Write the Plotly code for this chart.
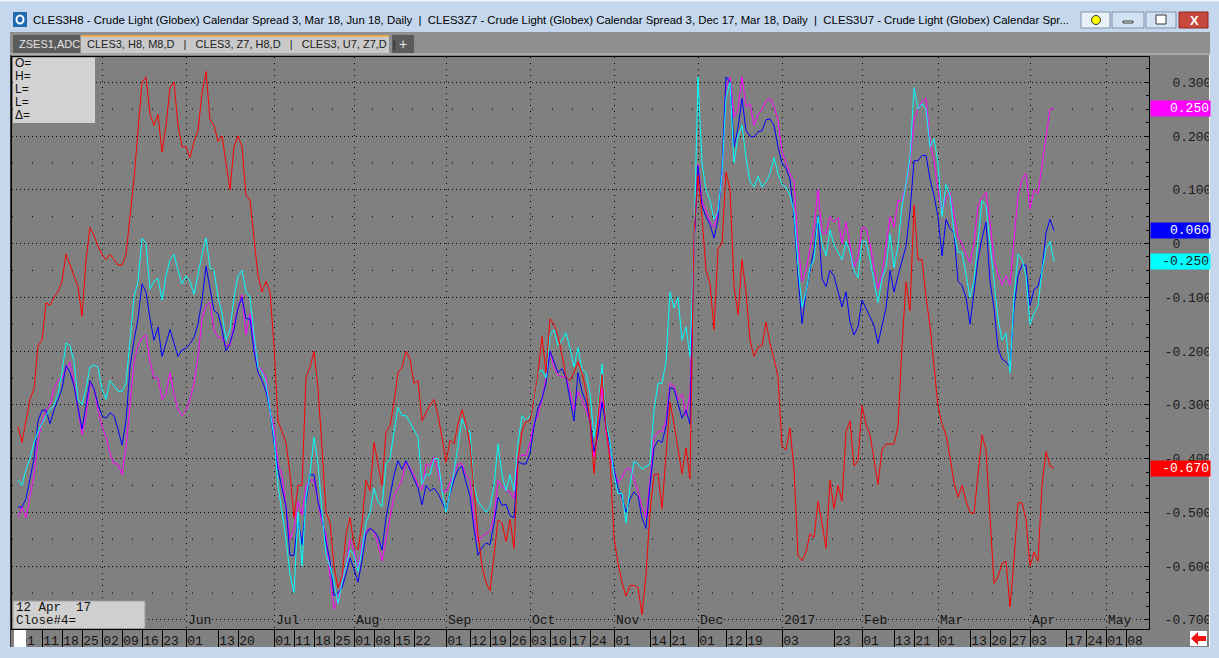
import plotly.graph_objects as go
import pandas as pd

# trading calendar, day 0 = 1 Jun 2016, series start on day -42 (1 Apr 2016)
holidays = ["2016-05-30", "2016-07-04", "2016-09-05", "2016-11-24", "2016-12-26",
            "2017-01-02", "2017-01-16", "2017-02-20", "2017-04-14"]
cal = pd.bdate_range("2016-03-01", "2017-06-30", freq="C", holidays=holidays)
day0 = cal.get_loc(pd.Timestamp("2016-06-01"))
first_day = -42

# CLES3, H8, M8 (red)
red = [
    -0.34, -0.37, -0.33, -0.29, -0.27, -0.19, -0.18, -0.11, -0.115, -0.10,
    -0.09, -0.07, -0.02, -0.04, -0.06, -0.08, -0.135, -0.03, 0.03, 0.015,
    -0.005, -0.02, -0.03, -0.02, -0.03, -0.04, -0.04, -0.02, 0.05, 0.12,
    0.21, 0.30, 0.31, 0.24, 0.22, 0.24, 0.17, 0.22, 0.29, 0.30,
    0.22, 0.18, 0.18, 0.16, 0.19, 0.21, 0.28, 0.32, 0.23, 0.22,
    0.19, 0.20, 0.15, 0.10, 0.18, 0.20, 0.18, 0.09, 0.08, 0.01,
    -0.06, -0.09, -0.07, -0.09, -0.19, -0.33, -0.35, -0.37, -0.43, -0.51,
    -0.45, -0.45, -0.25, -0.23, -0.20, -0.27, -0.38, -0.50, -0.52, -0.60,
    -0.64, -0.62, -0.54, -0.51, -0.56, -0.57, -0.52, -0.44, -0.46, -0.37,
    -0.41, -0.45, -0.35, -0.34,
    -0.295, -0.24, -0.23, -0.20, -0.215, -0.26, -0.255, -0.33, -0.315, -0.30,
    -0.29, -0.32, -0.36, -0.407, -0.366, -0.373, -0.336, -0.309, -0.336, -0.373,
    -0.46, -0.54, -0.60, -0.63, -0.646, -0.58, -0.514, -0.52, -0.554, -0.513,
    -0.567, -0.40, -0.35, -0.33, -0.33, -0.29, -0.24, -0.173, -0.24, -0.14,
    -0.15, -0.173, -0.207, -0.248, -0.255, -0.24, -0.22, -0.24, -0.275, -0.33,
    -0.428, -0.32, -0.244, -0.34, -0.404, -0.547, -0.595, -0.63, -0.656, -0.636,
    -0.636, -0.64, -0.69, -0.615, -0.50, -0.43, -0.428, -0.493, -0.40, -0.295,
    -0.336, -0.38, -0.428, -0.38, -0.438, 0.02, 0.127, 0.05, -0.05, -0.074,
    -0.16, -0.01, 0.0, 0.133, 0.10, -0.08, -0.132, -0.03, -0.09, -0.18,
    -0.21, -0.193, -0.19,
    -0.146, -0.186, -0.214, -0.248, -0.377, -0.384, -0.343, -0.42, -0.58, -0.59,
    -0.574, -0.54, -0.547, -0.48, -0.52, -0.567, -0.44, -0.493, -0.45, -0.479,
    -0.35, -0.33, -0.414, -0.404, -0.302, -0.336, -0.356, -0.404, -0.448, -0.384,
    -0.373, -0.373, -0.373, -0.34, -0.19, -0.071, -0.125, 0.072, -0.03, -0.03,
    -0.10, -0.153, -0.234, -0.302, -0.336, -0.356, -0.397, -0.445, -0.472, -0.45,
    -0.479, -0.50, -0.503, -0.431, -0.356, -0.384, -0.50, -0.632, -0.62, -0.595,
    -0.591, -0.676, -0.588, -0.482, -0.482, -0.513, -0.60, -0.574, -0.591, -0.45,
    -0.387, -0.414, -0.418,
]

# CLES3, Z7, H8 (blue)
blue = [
    -0.49, -0.49, -0.475, -0.44, -0.40, -0.33, -0.31, -0.31, -0.335, -0.31,
    -0.29, -0.27, -0.227, -0.24, -0.265, -0.305, -0.345, -0.30, -0.255, -0.27,
    -0.30, -0.32, -0.325, -0.315, -0.32, -0.345, -0.375, -0.33, -0.23, -0.18,
    -0.14, -0.075, -0.09, -0.14, -0.18, -0.155, -0.21, -0.185, -0.16, -0.185,
    -0.21, -0.198, -0.195, -0.186, -0.175, -0.15, -0.105, -0.042, -0.085, -0.125,
    -0.13, -0.16, -0.20, -0.185, -0.16, -0.12, -0.10, -0.14, -0.14, -0.20,
    -0.24, -0.255, -0.275, -0.31, -0.37, -0.42, -0.455, -0.49, -0.58, -0.58,
    -0.51, -0.56, -0.48, -0.43, -0.43, -0.48, -0.51, -0.555, -0.59, -0.655,
    -0.65, -0.64, -0.615, -0.585, -0.605, -0.63, -0.59, -0.54, -0.53, -0.535,
    -0.545, -0.57, -0.51, -0.47,
    -0.43, -0.404, -0.42, -0.404, -0.42, -0.437, -0.455, -0.486, -0.45, -0.46,
    -0.455, -0.465, -0.48, -0.496, -0.465, -0.44, -0.42, -0.414, -0.444, -0.47,
    -0.53, -0.58, -0.565, -0.557, -0.56, -0.52, -0.472, -0.487, -0.485, -0.506,
    -0.51, -0.405, -0.41, -0.41, -0.39, -0.34, -0.306, -0.288, -0.26, -0.20,
    -0.22, -0.24, -0.233, -0.25, -0.29, -0.33, -0.24, -0.275, -0.295, -0.33,
    -0.387, -0.355, -0.295, -0.34, -0.375, -0.42, -0.455, -0.472, -0.50, -0.475,
    -0.462, -0.47, -0.51, -0.53, -0.45, -0.38, -0.366, -0.37, -0.34, -0.268,
    -0.27, -0.30, -0.325, -0.31, -0.336, 0.0, 0.144, 0.07, 0.05, 0.035,
    0.01, 0.045, 0.14, 0.31, 0.30, 0.18, 0.215, 0.27, 0.21, 0.20,
    0.198, 0.208, 0.21,
    0.23, 0.232, 0.22, 0.18, 0.15, 0.14, 0.12, 0.05, -0.06, -0.149,
    -0.09, -0.05, -0.01, 0.052, -0.065, -0.08, -0.05, -0.06, -0.09, -0.118,
    -0.09, -0.146, -0.17, -0.155, -0.105, -0.12, -0.135, -0.152, -0.186, -0.15,
    -0.12, -0.05, -0.09, -0.06, -0.03, -0.005, 0.06, 0.154, 0.154, 0.164,
    0.164, 0.12, 0.09, 0.05, -0.023, 0.045, 0.028, 0.02, -0.07, -0.078,
    -0.10, -0.15, -0.09, -0.03, 0.01, 0.04, -0.07, -0.12, -0.195, -0.215,
    -0.22, -0.23, -0.12, -0.06, -0.04, -0.04, -0.115, -0.085, -0.08, -0.05,
    0.02, 0.045, 0.024,
]

# CLES3, U7, Z7 (cyan)
cyan = [
    -0.44, -0.45, -0.42, -0.40, -0.37, -0.35, -0.335, -0.32, -0.31, -0.30,
    -0.28, -0.24, -0.185, -0.19, -0.22, -0.29, -0.30, -0.27, -0.23, -0.226,
    -0.23, -0.27, -0.29, -0.255, -0.265, -0.275, -0.275, -0.26, -0.18, -0.10,
    -0.07, 0.01, 0.00, -0.085, -0.07, -0.065, -0.105, -0.06, -0.03, -0.02,
    -0.05, -0.075, -0.06, -0.07, -0.095, -0.055, -0.02, 0.01, -0.045, -0.05,
    -0.10, -0.13, -0.18, -0.16, -0.10, -0.06, -0.05, -0.09, -0.10, -0.17,
    -0.23, -0.24, -0.26, -0.31, -0.36, -0.45, -0.50, -0.55, -0.615, -0.65,
    -0.50, -0.60, -0.47, -0.43, -0.36, -0.41, -0.50, -0.58, -0.60, -0.63,
    -0.67, -0.63, -0.60, -0.57, -0.58, -0.61, -0.57, -0.52, -0.50, -0.455,
    -0.48, -0.49, -0.41, -0.40,
    -0.35, -0.305, -0.32, -0.32, -0.333, -0.346, -0.36, -0.448, -0.43, -0.43,
    -0.40, -0.40, -0.46, -0.50, -0.46, -0.425, -0.377, -0.326, -0.346, -0.35,
    -0.45, -0.48, -0.49, -0.50, -0.49, -0.45, -0.373, -0.43, -0.46, -0.43,
    -0.46, -0.37, -0.32, -0.33, -0.32, -0.295, -0.24, -0.235, -0.25, -0.17,
    -0.16, -0.19, -0.18, -0.166, -0.195, -0.23, -0.193, -0.235, -0.24, -0.28,
    -0.36, -0.31, -0.224, -0.33, -0.37, -0.43, -0.465, -0.465, -0.52, -0.45,
    -0.405, -0.41, -0.42, -0.415, -0.41, -0.31, -0.26, -0.26, -0.22, -0.09,
    -0.12, -0.10, -0.18, -0.155, -0.21, 0.00, 0.31, 0.15, 0.10, 0.08,
    0.045, 0.06, 0.13, 0.27, 0.30, 0.15, 0.20, 0.22, 0.16, 0.115,
    0.105, 0.125, 0.105,
    0.115, 0.13, 0.16, 0.13, 0.11, 0.105, 0.09, 0.06, -0.04, -0.118,
    -0.09, -0.045, -0.03, 0.05, 0.0, -0.023, 0.025, -0.003, -0.016, -0.03,
    0.004, -0.016, -0.05, -0.064, 0.004, 0.004, -0.03, -0.07, -0.11, -0.065,
    -0.045, 0.018, -0.045, -0.003, 0.07, 0.11, 0.16, 0.29, 0.25, 0.26,
    0.25, 0.18, 0.195, 0.15, 0.05, 0.11, 0.09, 0.02, -0.016, -0.016,
    -0.06, -0.10, -0.07, 0.0, 0.08, 0.07, 0.004, -0.065, -0.14, -0.18,
    -0.166, -0.24, -0.10, -0.02, -0.03, -0.06, -0.15, -0.13, -0.115, -0.05,
    -0.01, 0.004, -0.033,
]

# 4th study (magenta)
magenta = [
    -0.51, -0.49, -0.51, -0.47, -0.43, -0.37, -0.33, -0.31, -0.30, -0.27,
    -0.255, -0.25, -0.235, -0.22, -0.26, -0.31, -0.355, -0.32, -0.26, -0.27,
    -0.31, -0.34, -0.36, -0.39, -0.41, -0.41, -0.43, -0.38, -0.30, -0.22,
    -0.19, -0.175, -0.17, -0.22, -0.25, -0.25, -0.29, -0.28, -0.24, -0.28,
    -0.31, -0.32, -0.31, -0.29, -0.26, -0.21, -0.14, -0.115, -0.11, -0.16,
    -0.175, -0.175, -0.19, -0.19, -0.15, -0.12, -0.095, -0.17, -0.13, -0.18,
    -0.23, -0.235, -0.25, -0.31, -0.34, -0.41, -0.43, -0.49, -0.55, -0.53,
    -0.48, -0.505, -0.45, -0.44, -0.44, -0.48, -0.52, -0.54, -0.62, -0.68,
    -0.66, -0.63, -0.60, -0.55, -0.57, -0.605, -0.56, -0.535, -0.53, -0.535,
    -0.56, -0.59, -0.55, -0.51,
    -0.47, -0.455, -0.44, -0.405, -0.418, -0.43, -0.45, -0.458, -0.41, -0.414,
    -0.397, -0.423, -0.458, -0.462, -0.445, -0.428, -0.41, -0.41, -0.431, -0.44,
    -0.51, -0.555, -0.545, -0.54, -0.534, -0.51, -0.441, -0.45, -0.46, -0.462,
    -0.475, -0.397, -0.394, -0.395, -0.37, -0.335, -0.32, -0.29, -0.25, -0.20,
    -0.23, -0.245, -0.248, -0.248, -0.275, -0.31, -0.275, -0.29, -0.31, -0.33,
    -0.397, -0.355, -0.268, -0.35, -0.397, -0.42, -0.445, -0.435, -0.42, -0.418,
    -0.44, -0.46, -0.49, -0.51, -0.44, -0.36, -0.35, -0.35, -0.33, -0.26,
    -0.265, -0.29, -0.28, -0.32, -0.28, 0.0, 0.147, 0.08, 0.06, 0.04,
    0.03, 0.06, 0.12, 0.29, 0.31, 0.235, 0.25, 0.31, 0.255, 0.26,
    0.22, 0.24, 0.25,
    0.265, 0.27, 0.255, 0.23, 0.17, 0.15, 0.13, 0.115, 0.0, -0.07,
    -0.05, -0.01, 0.03, 0.10, 0.02, 0.018, 0.05, 0.04, 0.048, 0.0,
    0.04, -0.003, -0.045, -0.025, 0.03, 0.028, 0.0, -0.045, -0.084, -0.057,
    0.0, 0.05, 0.03, 0.08, 0.08, 0.11, 0.15, 0.23, 0.25, 0.265,
    0.27, 0.19, 0.155, 0.10, 0.06, 0.085, 0.095, 0.05, 0.012, 0.0,
    -0.02, -0.035, 0.0, 0.07, 0.085, 0.095, 0.04, -0.03, -0.057, -0.077,
    -0.06, -0.077, 0.0, 0.09, 0.12, 0.13, 0.065, 0.10, 0.093, 0.145,
    0.2, 0.25, 0.252,
]

# price flags on the right axis (text as shown)
flag_text = {"magenta": "0.250", "blue": "0.060", "cyan": "-0.250", "red": "-0.670"}

week_ticks = ["2016-04-01", "2016-04-11", "2016-04-18", "2016-04-25", "2016-05-02",
              "2016-05-09", "2016-05-16", "2016-05-23", "2016-06-01", "2016-06-13",
              "2016-06-20", "2016-07-01", "2016-07-11", "2016-07-18", "2016-07-25",
              "2016-08-01", "2016-08-08", "2016-08-15", "2016-08-22", "2016-09-01",
              "2016-09-12", "2016-09-19", "2016-09-26", "2016-10-03", "2016-10-10",
              "2016-10-17", "2016-10-24", "2016-11-01", "2016-11-14", "2016-11-21",
              "2016-12-01", "2016-12-12", "2016-12-19", "2017-01-03", "2017-01-23",
              "2017-02-01", "2017-02-13", "2017-02-21", "2017-03-01", "2017-03-13",
              "2017-03-20", "2017-03-27", "2017-04-03", "2017-04-17", "2017-04-24",
              "2017-05-01", "2017-05-08"]
week_labels = [d[-2:] for d in week_ticks]

month_starts = ["2016-05-02", "2016-06-01", "2016-07-01", "2016-08-01", "2016-09-01",
                "2016-10-03", "2016-11-01", "2016-12-01", "2017-01-03", "2017-02-01",
                "2017-03-01", "2017-04-03", "2017-05-01"]
month_labels = ["", "Jun", "Jul", "Aug", "Sep", "Oct", "Nov", "Dec", "2017",
                "Feb", "Mar", "Apr", "May"]

price_ticks = [-0.7, -0.6, -0.5, -0.4, -0.3, -0.2, -0.1, 0.0, 0.1, 0.2, 0.3]
price_labels = ["-0.700", "-0.600", "-0.500", "-0.400", "-0.300", "-0.200", "-0.100",
                "\u00a00", "\u00a00.100", "\u00a00.200", "\u00a00.300"]

# ---- pixel layout of the window ----
W, H = 1219, 658
L, R, T, B = 12, 1149, 57, 629
FRAME = "#c4d7ed"
GRAY = "#808080"
MONO = "Liberation Mono"
SANS = "Liberation Sans"


def px(x):
    return (x - L) / (R - L)


def py(y):
    return (B - y) / (B - T)


def rect(x0, y0, x1, y1, fill, line=None, layer="below"):
    return dict(type="rect", xref="paper", yref="paper", x0=px(x0), x1=px(x1),
                y0=py(y1), y1=py(y0), fillcolor=fill, layer=layer,
                line=dict(width=1 if line else 0, color=line or fill))


def label(x, y, text, size=12, color="#000000", family=SANS, **kw):
    return dict(xref="paper", yref="paper", x=px(x), y=py(y), text=text,
                showarrow=False, xanchor=kw.pop("xanchor", "left"), yanchor="middle",
                font=dict(family=family, size=size, color=color), **kw)


fig = go.Figure()
series = [("magenta", magenta, "#ff00ff", "white"), ("blue", blue, "#0000ff", "white"),
          ("cyan", cyan, "#00ffff", "#1a1a1a"), ("red", red, "#ff0000", "white")]
for name, vals, color, _ in series:
    x = cal[day0 + first_day: day0 + first_day + len(vals)]
    fig.add_trace(go.Scatter(x=x, y=vals, mode="lines", name=name,
                             line=dict(color=color, width=1), hoverinfo="skip"))

shapes = [
    rect(0, 0, W, 32, FRAME),
    rect(0, 0, W, 1.5, "#eef4fb"),
    rect(0, 32, W, 55, "#8e8e8e"),
    rect(0, 53, W, 55, "#a8a8a8"),
    rect(0, 32, 10, H, FRAME),
    rect(10, 55, 11, 648, "#3a3a3a"),
    rect(1210, 32, W, H, FRAME, layer="above"),
    rect(1209, 55, 1210, 648, "#f4f4f4", layer="above"),
    rect(0, 647, W, H, FRAME),
    # tabs
    rect(13, 35, 80, 53, "#5b5b5b"),
    rect(81, 35, 389, 53, "#c9c9c9"),
    rect(81, 35, 389, 36.5, "#f2a232"),
    rect(392, 35, 414, 53, "#5b5b5b"),
    # window icon and buttons
    rect(13, 12, 27, 27, "#2068b0"),
    dict(type="circle", xref="paper", yref="paper", x0=px(16.5), x1=px(23.5),
         y0=py(23.5), y1=py(15.5), line=dict(color="white", width=2)),
    rect(1081, 12, 1110, 28, "#eaf0f7", "#7f93ad"),
    dict(type="circle", xref="paper", yref="paper", x0=px(1091.5), x1=px(1100.5),
         y0=py(24.5), y1=py(15.5), fillcolor="#ffff00", line=dict(color="#333333", width=1)),
    rect(1112, 12, 1144, 28, "#d3e2f3", "#7f93ad"),
    rect(1123, 21, 1133, 23, "#ffffff", "#333333"),
    rect(1146, 12, 1176, 28, "#d3e2f3", "#7f93ad"),
    rect(1156, 15, 1166, 24, "#ffffff", "#333333"),
    rect(1179, 12, 1208, 28, "#c8493b", "#8a2b22"),
    # data window boxes
    rect(13, 57.5, 95, 123, "#d2d2d2", layer="above"),
    rect(13, 601, 145, 628.5, "#d0d0d0", "#9a9a9a", layer="above"),
    rect(14, 630, 26, 647, "#ffffff", layer="above"),
    rect(1190, 631, 1207, 646, "#ffffff"),
]
arrow = [(1191, 638.5), (1198, 632), (1198, 636), (1206, 636), (1206, 641),
         (1198, 641), (1198, 645)]
shapes.append(dict(type="path", xref="paper", yref="paper", layer="above",
                   path="M " + " L ".join(f"{px(a):.5f},{py(b):.5f}" for a, b in arrow) + " Z",
                   fillcolor="#ee1111", line=dict(width=0)))
# sparse dotted rows between the major price grid lines
for v in [-0.65, -0.55, -0.45, -0.35, -0.25, -0.15, -0.05, 0.05, 0.15, 0.25]:
    shapes.append(dict(type="line", xref="paper", yref="y", x0=0, x1=1, y0=v, y1=v,
                       layer="below", line=dict(color="black", width=1, dash="1px,19px")))

title = ("CLES3H8 - Crude Light (Globex) Calendar Spread 3, Mar 18, Jun 18, Daily"
         "\u00a0\u00a0|\u00a0\u00a0CLES3Z7 - Crude Light (Globex) Calendar Spread 3, Dec 17, "
         "Mar 18, Daily\u00a0\u00a0|\u00a0\u00a0CLES3U7 - Crude Light (Globex) Calendar Spr...")
annotations = [
    label(31, 20, title, size=11.4),
    label(1194, 20, "<b>X</b>", size=13, color="white", xanchor="center"),
    label(17, 44, "ZSES1,ADC", size=11, color="#e4e4e4"),
    label(85, 44, "CLES3, H8, M8,D\u00a0\u00a0\u00a0|\u00a0\u00a0\u00a0CLES3, Z7, H8,D"
          "\u00a0\u00a0\u00a0|\u00a0\u00a0\u00a0CLES3, U7, Z7,D\u00a0\u00a0|",
          size=11, color="#222222"),
    label(403, 44, "+", size=14, color="#e8e8e8", xanchor="center"),
    label(13, 63, "O=", size=12, color="#111111"),
    label(13, 76, "H=", size=12, color="#111111"),
    label(13, 89, "L=", size=12, color="#111111"),
    label(13, 102, "L=", size=12, color="#111111"),
    label(13, 115, "\u0394=", size=12, color="#111111"),
    label(14, 608, "12 Apr\u00a0\u00a017", size=12.5, color="#111111", family=MONO),
    label(14, 621, "Close#4=", size=12.5, color="#111111", family=MONO),
]
for d, txt in zip(month_starts, month_labels):
    if txt:
        annotations.append(dict(x=d, xref="x", y=0, yref="paper", text=txt,
                                showarrow=False, xanchor="left", yanchor="bottom",
                                xshift=1, bgcolor=GRAY, borderpad=0,
                                font=dict(family=MONO, size=13, color="#141414")))
for name, vals, color, fcolor in series:
    annotations.append(dict(x=1, xref="paper", y=vals[-1], yref="y", text=flag_text[name],
                            showarrow=False, xanchor="left", yanchor="middle", xshift=1,
                            width=57, height=13, align="right", bgcolor=color, borderpad=1,
                            font=dict(family=MONO, size=13, color=fcolor)))

fig.update_layout(
    template="none",
    width=W, height=H,
    margin=dict(l=L, r=W - R, t=T, b=H - B, pad=0, autoexpand=False),
    paper_bgcolor=GRAY, plot_bgcolor=GRAY,
    showlegend=False,
    shapes=shapes,
    annotations=annotations,
    xaxis=dict(
        type="date", automargin=False,
        range=["2016-03-30 12:00", "2017-05-15 18:00"],
        rangebreaks=[dict(bounds=["sat", "mon"]), dict(values=holidays)],
        tickmode="array", tickvals=week_ticks, ticktext=week_labels,
        ticks="outside", ticklen=17, tickwidth=1, tickcolor="black",
        ticklabelstandoff=-18, ticklabelshift=9,
        tickfont=dict(family=MONO, size=13, color="#141414"),
        showgrid=False, zeroline=False,
        showline=True, linecolor="black", linewidth=1, mirror=True,
        minor=dict(tickmode="array", tickvals=month_starts, ticks="",
                   showgrid=True, gridcolor="black", gridwidth=1, griddash="1px,5px"),
    ),
    yaxis=dict(
        side="right", automargin=False,
        range=[-0.717, 0.347],
        tickmode="array", tickvals=price_ticks, ticktext=price_labels,
        ticks="inside", ticklen=5, tickcolor="black",
        ticklabelstandoff=12,
        tickfont=dict(family=MONO, size=13, color="#1a1a1a"),
        showgrid=True, gridcolor="black", gridwidth=1, griddash="1px,3px",
        zeroline=False,
        showline=True, linecolor="black", linewidth=1, mirror=True,
        minor=dict(tickmode="linear", tick0=0, dtick=0.025, ticks="inside",
                   ticklen=3, tickcolor="black", showgrid=False),
    ),
)

# the page body has a default 8px margin; drop it so the figure fills the window
fig.write_html("out.html", config={"displayModeBar": False},
               post_script="document.body.style.margin='0px';")
